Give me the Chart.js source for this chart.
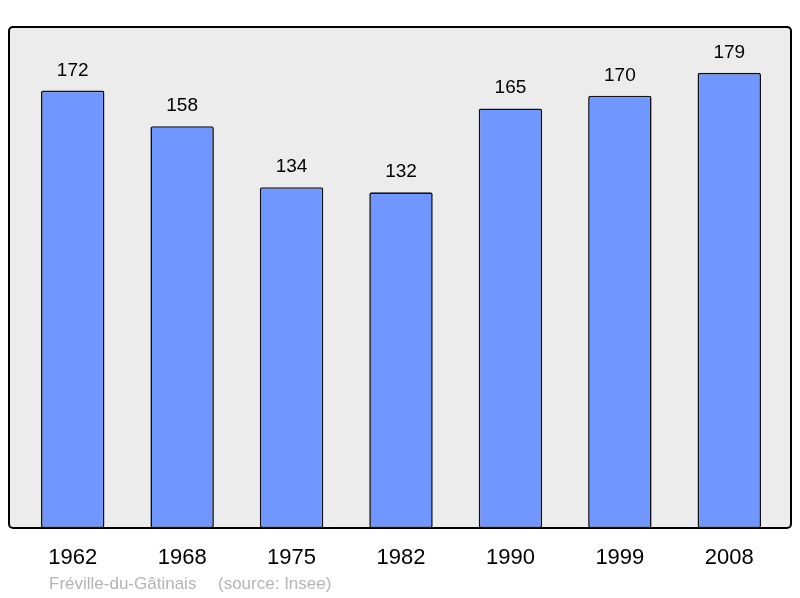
<!DOCTYPE html>
<html>
<head>
<meta charset="utf-8">
<script src="https://cdn.jsdelivr.net/npm/chart.js@4"></script>
<style>
  html, body { margin: 0; padding: 0; background: #fff; }
  #wrap { width: 800px; height: 598px; position: relative; }
</style>
</head>
<body>
<div id="wrap"><canvas id="grafico" width="800" height="598"></canvas></div>
<script>
const annees = ['1962', '1968', '1975', '1982', '1990', '1999', '2008'];
const population = [172, 158, 134, 132, 165, 170, 179];
const commune = 'Fréville-du-Gâtinais';
const source = '(source: Insee)';

// fond gris + cadre autour de la zone du graphique
const cadre = {
  id: 'cadre',
  beforeDraw(chart) {
    const { ctx, chartArea: a } = chart;
    const x = a.left - 9, y = a.top, w = a.right - a.left + 16, h = a.bottom - a.top;
    ctx.save();
    ctx.beginPath();
    ctx.roundRect(x, y, w, h, 4);
    ctx.fillStyle = '#ececec';
    ctx.fill();
    ctx.lineWidth = 2;
    ctx.strokeStyle = '#000';
    ctx.stroke();
    ctx.restore();
  },
  afterDraw(chart) {
    const { ctx } = chart;
    ctx.save();
    ctx.font = '17px "Liberation Sans", Arial, sans-serif';
    ctx.fillStyle = '#b4b4b4';
    ctx.textBaseline = 'alphabetic';
    ctx.fillText(commune, 49, 589);
    ctx.fillText(source, 218, 589);
    ctx.restore();
  }
};

// valeurs au-dessus des barres
const valeurs = {
  id: 'valeurs',
  afterDatasetsDraw(chart) {
    const { ctx } = chart;
    const meta = chart.getDatasetMeta(0);
    ctx.save();
    ctx.font = '19px "Liberation Sans", Arial, sans-serif';
    ctx.fillStyle = '#000';
    ctx.textAlign = 'center';
    ctx.textBaseline = 'alphabetic';
    meta.data.forEach((bar, i) => {
      ctx.fillText(population[i], bar.x, bar.y - 15);
    });
    ctx.restore();
  }
};

const ctx = document.getElementById('grafico').getContext('2d');

new Chart(ctx, {
  type: 'bar',
  data: {
    labels: annees,
    datasets: [{
      data: population,
      backgroundColor: '#7097ff',
      borderColor: '#111',
      borderWidth: 1.6,
      borderRadius: 2,
      borderSkipped: false,
      categoryPercentage: 1,
      barPercentage: 0.58
    }]
  },
  options: {
    responsive: false,
    animation: false,
    layout: { padding: { top: 27, left: 18, right: 16, bottom: 0 } },
    plugins: {
      legend: { display: false },
      tooltip: { enabled: false }
    },
    scales: {
      y: {
        display: false,
        min: 0,
        max: 197
      },
      x: {
        grid: { display: false, drawTicks: false },
        border: { display: false },
        ticks: {
          color: '#000',
          font: { family: '"Liberation Sans", Arial, sans-serif', size: 22 },
          padding: 17
        },
        afterFit(scale) { scale.height = 70; }
      }
    }
  },
  plugins: [cadre, valeurs]
});
</script>
</body>
</html>
